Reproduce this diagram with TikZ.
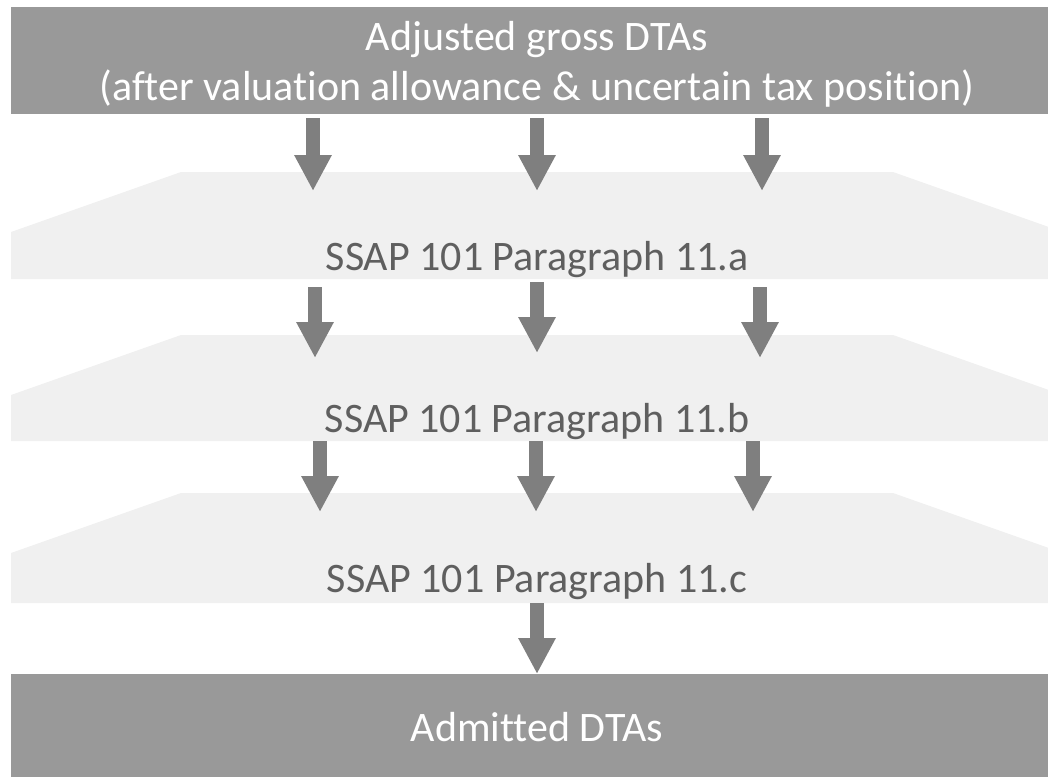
\documentclass[tikz,border=0pt]{standalone}
\usepackage{fontspec}
\setmainfont{Carlito}[Ligatures=NoCommon]
\usetikzlibrary{arrows.meta}
\definecolor{boxgray}{HTML}{999999}
\definecolor{bandgray}{HTML}{F0F0F0}
\definecolor{arrowgray}{HTML}{7F7F7F}
\definecolor{textgray}{HTML}{5F5F5F}
\begin{document}
\begin{tikzpicture}[x=1pt,y=-1pt,
  arr/.style={draw=arrowgray, line width=14pt, -{Triangle[length=36pt,width=35pt]}},
  lbl/.style={font=\fontsize{42}{42}\selectfont, text=textgray, inner sep=0pt, anchor=base},
  wlbl/.style={font=\fontsize{42}{50}\selectfont, text=white, align=center, inner sep=0pt, anchor=base}]
\useasboundingbox (0,0) rectangle (1048,776);
\clip (0,0) rectangle (1048,776);
% boxes
\fill[boxgray] (11,7) rectangle (1063,114);
\fill[boxgray] (11,674) rectangle (1063,790);
% bands
\fill[bandgray] (11,279) -- (11,232) -- (181,172) -- (893,172) -- (1063,232) -- (1063,279) -- cycle;
\fill[bandgray] (11,441) -- (11,395) -- (181,335) -- (893,335) -- (1063,395) -- (1063,441) -- cycle;
\fill[bandgray] (11,603) -- (11,553) -- (181,493) -- (893,493) -- (1063,553) -- (1063,603) -- cycle;
% labels
\node[wlbl] (top) at (537,100) {Adjusted gross DTAs\\(after valuation allowance \& uncertain tax position)};
\node[lbl] (pa) at (537,270.5) {SSAP 101 Paragraph 11.a};
\node[lbl] (pb) at (537,432) {SSAP 101 Paragraph 11.b};
\node[lbl] (pc) at (537,592.5) {SSAP 101 Paragraph 11.c};
\node[wlbl] (adm) at (537,741.5) {Admitted DTAs};
% arrow end points
\coordinate (t1) at (313,118); \coordinate (h1) at (313,191);
\coordinate (t2) at (537,118); \coordinate (h2) at (537,191);
\coordinate (t3) at (762,118); \coordinate (h3) at (762,191);
\coordinate (a1) at (315,287); \coordinate (b1) at (315,358);
\coordinate (a2) at (537,282); \coordinate (b2) at (537,353);
\coordinate (a3) at (760,287); \coordinate (b3) at (760,358);
\coordinate (c1) at (320,441); \coordinate (d1) at (320,512);
\coordinate (c2) at (536,441); \coordinate (d2) at (536,512);
\coordinate (c3) at (753,441); \coordinate (d3) at (753,512);
\coordinate (e1) at (537,603); \coordinate (f1) at (537,674);
\foreach \s/\e in {t1/h1,t2/h2,t3/h3,a1/b1,a2/b2,a3/b3,c1/d1,c2/d2,c3/d3,e1/f1}
  \draw[arr] (\s) -- (\e);
\end{tikzpicture}
\end{document}
